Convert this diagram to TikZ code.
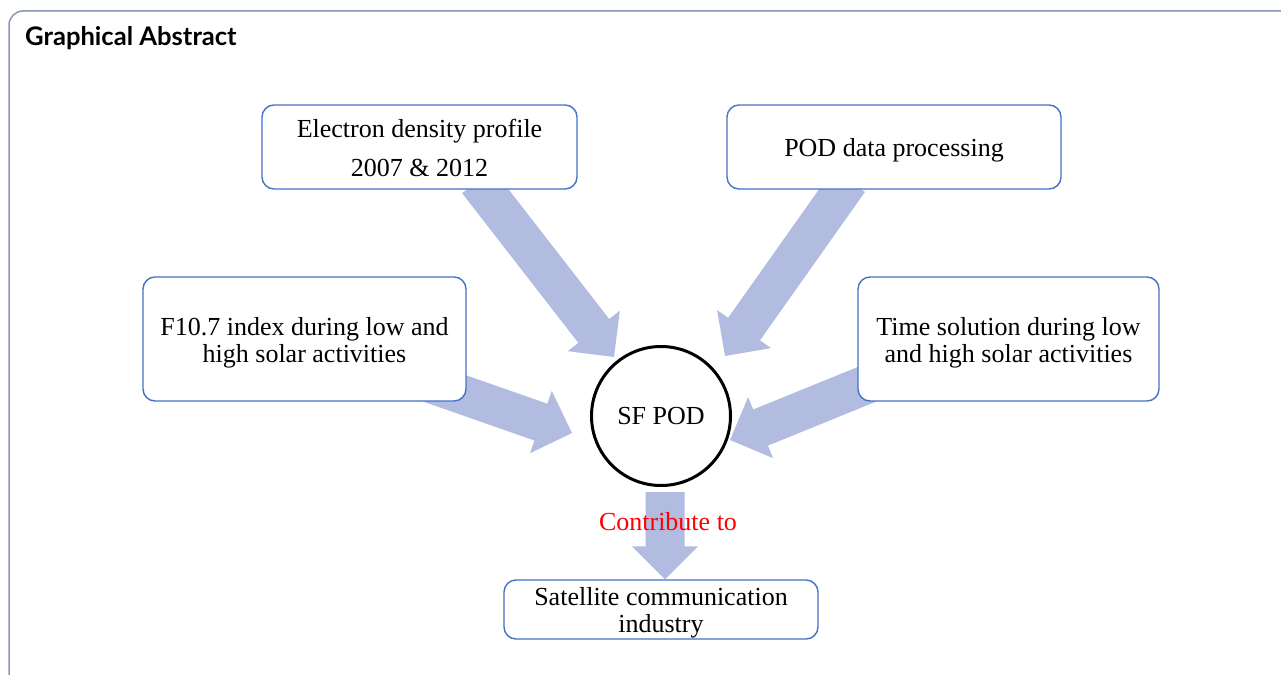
\documentclass[tikz,border=0pt]{standalone}
\usepackage{fontspec}
\setmainfont{Liberation Serif}
\newfontfamily\titlefont{Lato}
\usetikzlibrary{backgrounds,calc}
\definecolor{boxblue}{HTML}{4472C4}
\definecolor{arrowfill}{RGB}{178,188,224}
\definecolor{framecol}{RGB}{138,150,184}
\newcommand\bodyfont{\fontsize{26}{27}\selectfont}
\newcommand\lowtext[1]{\raisebox{-4.5pt}[\height][\depth]{\begin{tabular}{@{}c@{}}#1\end{tabular}}}
\begin{document}
\begin{tikzpicture}[x=1pt,y=-1pt,
  box/.style={draw=boxblue, line width=1.4pt, rounded corners=12pt, fill=white,
    inner sep=0pt, font=\bodyfont},
  blockarrow/.style={fill=arrowfill, to path={
    -- ($(\tikztostart)!19.5pt!90:(\tikztotarget)$)
    -- ($($(\tikztotarget)!33pt!(\tikztostart)$)!19.5pt!90:(\tikztotarget)$)
    -- ($($(\tikztotarget)!33pt!(\tikztostart)$)!33pt!90:(\tikztotarget)$)
    -- (\tikztotarget)
    -- ($($(\tikztotarget)!33pt!(\tikztostart)$)!33pt!-90:(\tikztotarget)$)
    -- ($($(\tikztotarget)!33pt!(\tikztostart)$)!19.5pt!-90:(\tikztotarget)$)
    -- ($(\tikztostart)!19.5pt!-90:(\tikztotarget)$)
    -- cycle}},
  hub/.style={circle, draw=black, line width=3pt, fill=white, minimum size=139pt,
    inner sep=0pt, font=\bodyfont},
  label/.style={text=red, font=\bodyfont, inner sep=0pt}]
\clip (0,0) rectangle (1281,674);
\draw[framecol, line width=1.5pt, rounded corners=14pt] (1300,11) -- (9,11) -- (9,700);
\node[anchor=base west, inner sep=0pt, font=\titlefont\bfseries\fontsize{25.6}{30}\selectfont] (title) at (25,46) {Graphical Abstract};

\node[box, minimum width=315pt, minimum height=84pt] (b1) at (419.5,147) {\lowtext{Electron density profile\\[12pt]2007 \& 2012}};
\node[box, minimum width=334pt, minimum height=84pt] (b2) at (894,147) {\lowtext{POD data processing}};
\node[box, minimum width=323pt, minimum height=124pt] (b3) at (304.5,339) {\lowtext{F10.7 index during low and\\high solar activities}};
\node[box, minimum width=301pt, minimum height=124pt] (b4) at (1008.5,339) {\lowtext{Time solution during low\\and high solar activities}};
\node[box, minimum width=314pt, minimum height=59pt] (b5) at (661,609.5) {\lowtext{Satellite communication\\industry}};
\node[hub] (c) at (661,416) {SF POD};

\begin{scope}[on background layer]
\fill[white] (0,0) rectangle (1281,674);
\path[blockarrow] ($(b1.south)+(58,-8.5)$) to ($(c.center)+(-47,-59)$);
\path[blockarrow] ($(b2.south)+(-45,-9)$) to ($(c.center)+(64,-60)$);
\path[blockarrow] ($(b3.center)+(79,28)$) to ($(c.center)+(-89,17)$);
\path[blockarrow] ($(b4.center)+(-102.5,29.4)$) to ($(c.center)+(69,24)$);
\path[blockarrow] ($(c.center)+(4,76)$) to ($(b5.north)+(4,0)$);
\end{scope}

\node[label, anchor=base] (lab) at (668,530) {Contribute to};
\end{tikzpicture}
\end{document}
